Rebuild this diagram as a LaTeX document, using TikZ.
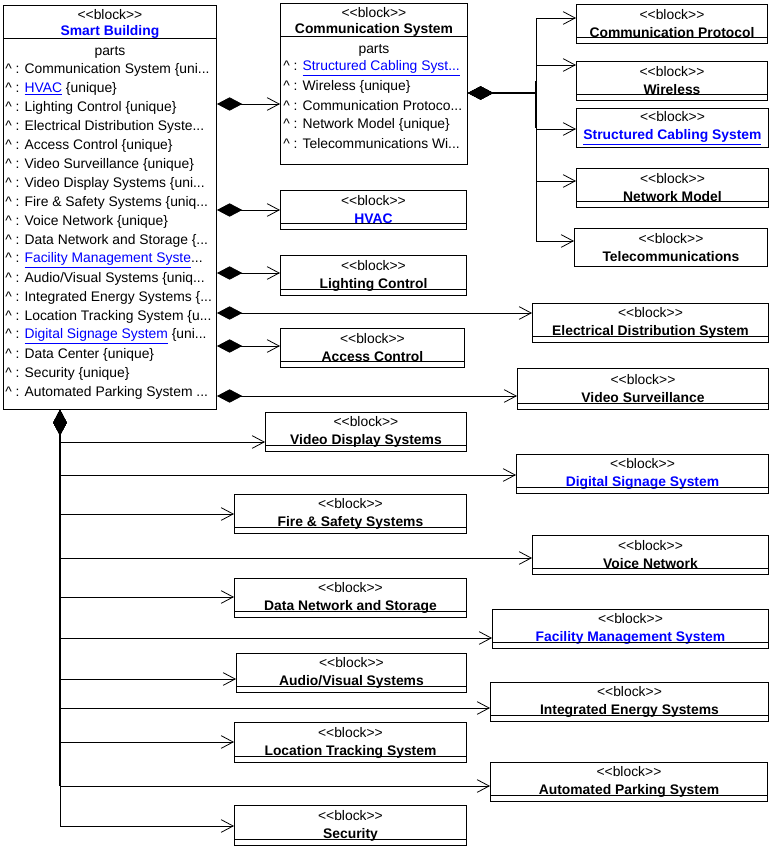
\documentclass[tikz,border=0pt]{standalone}
\usepackage{fontspec}
\setmainfont{Liberation Sans}
\usetikzlibrary{arrows.meta}
\definecolor{linkblue}{RGB}{0,0,255}
\newcommand\linkname[1]{\textcolor{linkblue}{\underline{#1}}}
\newcommand\partmark{\textasciicircum{} : }
\newcommand\cut{...}
\newcommand\stereo{<{}<block>{}>}
\newcommand\compline[1]{\draw[line width=0.7pt] ([yshift=4.5pt]#1.south west) -- ([yshift=4.5pt]#1.south east);}
\tikzset{
  boxsize/.style 2 args={minimum width=#1*0.75pt, minimum height=#2*0.75pt},
  blockbox/.style={draw, line width=0.7pt, anchor=north west, inner sep=0pt,
    align=center, font=\fontsize{10.4}{13.5}\selectfont},
  row/.style={anchor=west, inner sep=0pt, font=\fontsize{10.4}{12}\selectfont},
  part/.style={line width=0.6pt,
    {Diamond[length=19pt,width=10pt]}-{Straight Barb[length=9pt,width=9.5pt,line width=0.6pt]}},
  bus/.style={line width=2pt},
}
\begin{document}
\begin{tikzpicture}[x=0.75pt,y=-0.75pt]
\useasboundingbox (0,0) rectangle (773,849);
% Smart Building
\node[draw, line width=0.7pt, anchor=north west, boxsize={213}{404}] (sb) at (3,5) {};
\draw[line width=0.7pt] (sb.north west |- 0,38) -- (sb.north east |- 0,38);
\node[row, anchor=center] (sbst) at (sb.north |- 0,15) {\stereo};
\node[row, anchor=center] (sbname) at (sb.north |- 0,32) {\textcolor{linkblue}{\textbf{Smart Building}}};
\node[row, anchor=center] (sbparts) at (sb.north |- 0,52) {parts};
\foreach \t [count=\i] in {%
  \partmark Communication System \{uni\cut,
  \partmark\linkname{HVAC} \{unique\},
  \partmark Lighting Control \{unique\},
  \partmark Electrical Distribution Syste\cut,
  \partmark Access Control \{unique\},
  \partmark Video Surveillance \{unique\},
  \partmark Video Display Systems \{uni\cut,
  \partmark Fire \& Safety Systems \{uniq\cut,
  \partmark Voice Network \{unique\},
  \partmark Data Network and Storage \{\cut,
  \partmark\linkname{Facility Management Syste}\cut,
  \partmark Audio/Visual Systems \{uniq\cut,
  \partmark Integrated Energy Systems \{\cut,
  \partmark Location Tracking System \{u\cut,
  \partmark\linkname{Digital Signage System} \{uni\cut,
  \partmark Data Center \{unique\},
  \partmark Security \{unique\},
  \partmark Automated Parking System \cut}
  \node[row] (sbrow\i) at (5,51+19*\i) {\t};
% Communication System
\node[draw, line width=0.7pt, anchor=north west, boxsize={187}{161}] (comm) at (280,3) {};
\draw[line width=0.7pt] (comm.north west |- 0,36) -- (comm.north east |- 0,36);
\node[row, anchor=center] (commst) at (comm.north |- 0,13) {\stereo};
\node[row, anchor=center] (commname) at (comm.north |- 0,30) {\textbf{Communication System}};
\node[row, anchor=center] (commparts) at (comm.north |- 0,50) {parts};
\foreach \t [count=\i] in {%
  \partmark\linkname{Structured Cabling Syst\cut},
  \partmark Wireless \{unique\},
  \partmark Communication Protoco\cut,
  \partmark Network Model \{unique\},
  \partmark Telecommunications Wi\cut}
  \node[row] (commrow\i) at (283,49+19*\i) {\t};
% Parts of Communication System
\node[blockbox, boxsize={191}{39}] (cprot) at (576,4) {\stereo\\\textbf{Communication Protocol}};
\node[blockbox, boxsize={191}{39}] (wless) at (576,61) {\stereo\\\textbf{Wireless}};
\node[blockbox, boxsize={192}{39}] (scab) at (576,108) {\stereo\\\linkname{\textbf{Structured Cabling System}}};
\node[blockbox, boxsize={192}{39}] (nmod) at (576,168) {\stereo\\\textbf{Network Model}};
\node[blockbox, boxsize={193}{38}] (tcom) at (574,228) {\stereo\\\textbf{Telecommunications}};
% Parts of Smart Building
\node[blockbox, boxsize={186}{39}] (hvac) at (280,190) {\stereo\\\textcolor{linkblue}{\textbf{HVAC}}};
\node[blockbox, boxsize={186}{40}] (light) at (280,255) {\stereo\\\textbf{Lighting Control}};
\node[blockbox, boxsize={236}{39}] (elec) at (532,303) {\stereo\\\textbf{Electrical Distribution System}};
\node[blockbox, boxsize={184}{39}] (access) at (280,328) {\stereo\\\textbf{Access Control}};
\node[blockbox, boxsize={251}{41}] (vsurv) at (517,368) {\stereo\\\textbf{Video Surveillance}};
\node[blockbox, boxsize={201}{39}] (vdisp) at (265,412) {\stereo\\\textbf{Video Display Systems}};
\node[blockbox, boxsize={252}{39}] (dsign) at (516,454) {\stereo\\\textcolor{linkblue}{\textbf{Digital Signage System}}};
\node[blockbox, boxsize={232}{39}] (fire) at (234,494) {\stereo\\\textbf{Fire \& Safety Systems}};
\node[blockbox, boxsize={236}{39}] (voice) at (532,535) {\stereo\\\textbf{Voice Network}};
\node[blockbox, boxsize={232}{39}] (data) at (234,578) {\stereo\\\textbf{Data Network and Storage}};
\node[blockbox, boxsize={276}{39}] (fac) at (492,609) {\stereo\\\textcolor{linkblue}{\textbf{Facility Management System}}};
\node[blockbox, boxsize={230}{39}] (av) at (236,653) {\stereo\\\textbf{Audio/Visual Systems}};
\node[blockbox, boxsize={278}{39}] (ies) at (490,682) {\stereo\\\textbf{Integrated Energy Systems}};
\node[blockbox, boxsize={232}{40}] (loc) at (234,722) {\stereo\\\textbf{Location Tracking System}};
\node[blockbox, boxsize={277}{39}] (aps) at (490,762) {\stereo\\\textbf{Automated Parking System}};
\node[blockbox, boxsize={232}{40}] (sec) at (234,805) {\stereo\\\textbf{Security}};
% Lower compartments
\foreach \n in {cprot, wless, nmod, hvac, light, elec, access, vsurv, vdisp, dsign,
  fire, voice, data, fac, av, ies, loc, aps, sec}
  \compline{\n}
% Bus points
\coordinate (cbus) at (536,93);
\coordinate (sbus) at (60,786);
% Composition from Communication System
\foreach \y/\n in {18/cprot, 65/wless, 129/scab, 181/nmod, 241/tcom}
  \draw[part] (comm.east |- 0,93) -- (cbus) -- (536,\y) -- (\n.west |- 0,\y);
\draw[bus] ([xshift=19pt]comm.east |- cbus) -- (cbus);
\draw[bus] (cbus |- wless.west) -- (cbus |- scab.west);
% Composition from Smart Building, right side
\foreach \y/\n in {104/comm, 210/hvac, 273/light, 313/elec, 346/access, 396/vsurv}
  \draw[part] (sb.east |- 0,\y) -- (\n.west |- 0,\y);
% Composition from Smart Building, bottom
\foreach \y/\n in {442/vdisp, 475/dsign, 514/fire, 558/voice, 597/data, 638/fac,
  679/av, 708/ies, 742/loc, 786/aps, 826/sec}
  \draw[part] (sb.south -| sbus) -- (60,\y) -- (\n.west |- 0,\y);
\draw[bus] ([yshift=-19pt]sb.south -| sbus) -- (sbus);
\end{tikzpicture}
\end{document}
